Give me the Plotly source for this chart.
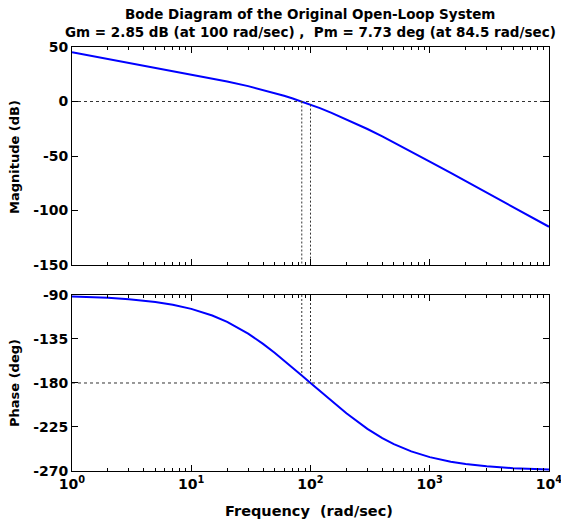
import plotly.graph_objects as go

# Values
freq = [1, 1.5, 2, 3, 5, 7, 10, 15, 20, 30, 40, 50, 60, 70, 84.5, 100, 120, 150, 200,
        300, 400, 500, 700, 1000, 1500, 2000, 3000, 5000, 7000, 10000]
mag_db = [45.10, 41.58, 39.08, 35.55, 31.08, 28.11, 24.92, 21.19, 18.40, 14.13, 10.75,
          7.85, 5.29, 2.99, 0.0, -2.85, -6.11, -10.36, -16.23, -25.24, -32.06, -37.52,
          -45.96, -55.08, -65.54, -73.00, -83.54, -96.84, -105.61, -114.90]
phase_deg = [-91.43, -92.15, -92.86, -94.29, -97.14, -99.97, -104.17, -110.99, -117.51,
             -129.49, -139.97, -149.04, -156.89, -163.75, -172.29, -180.00, -188.34,
             -198.43, -210.96, -226.85, -236.31, -242.49, -249.97, -255.83, -260.50,
             -262.86, -265.23, -267.14, -267.95, -268.57]

gm_freq = 100
gm_db = -2.85
pm_freq = 84.5
pm_phase = -172.29

mag_ticks = [50, 0, -50, -100, -150]
phase_ticks = [-90, -135, -180, -225, -270]
x_ticks = [1, 10, 100, 1000, 10000]
x_ticktext = ["10<sup>0</sup>", "10<sup>1</sup>", "10<sup>2</sup>", "10<sup>3</sup>", "10<sup>4</sup>"]
minor_x = [m * d for d in [1, 10, 100, 1000] for m in range(2, 10)]

title1 = "Bode Diagram of the Original Open-Loop System"
title2 = "Gm = 2.85 dB (at 100 rad/sec) ,  Pm = 7.73 deg (at 84.5 rad/sec)"
ylabel1 = "Magnitude (dB)"
ylabel2 = "Phase (deg)"
xlabel = "Frequency&nbsp; (rad/sec)"

FONT = "DejaVu Sans"
blue = "#0000ff"
dash_col = "#333333"

fig = go.Figure()

fig.add_trace(go.Scatter(x=freq, y=mag_db, mode="lines", line=dict(color=blue, width=2),
                         xaxis="x", yaxis="y", showlegend=False))
fig.add_trace(go.Scatter(x=freq, y=phase_deg, mode="lines", line=dict(color=blue, width=2),
                         xaxis="x2", yaxis="y2", showlegend=False))

fig.add_trace(go.Scatter(x=[freq[0], freq[-1]], y=[0, 0], mode="lines",
                         line=dict(color=dash_col, width=1, dash="3px,3px"),
                         xaxis="x", yaxis="y", showlegend=False))
fig.add_trace(go.Scatter(x=[freq[0], freq[-1]], y=[-180, -180], mode="lines",
                         line=dict(color=dash_col, width=1, dash="3px,3px"),
                         xaxis="x2", yaxis="y2", showlegend=False))

for f, y0 in [(pm_freq, 0), (gm_freq, gm_db)]:
    fig.add_trace(go.Scatter(x=[f, f], y=[y0, mag_ticks[-1]], mode="lines",
                             line=dict(color=dash_col, width=1, dash="2px,2px"),
                             xaxis="x", yaxis="y", showlegend=False))
for f, y0 in [(pm_freq, pm_phase), (gm_freq, -180)]:
    fig.add_trace(go.Scatter(x=[f, f], y=[phase_ticks[0], y0], mode="lines",
                             line=dict(color=dash_col, width=1, dash="2px,2px"),
                             xaxis="x2", yaxis="y2", showlegend=False))

tickfont = dict(family=FONT, size=14, color="black")
common_x = dict(type="log", range=[0, 4], showgrid=False, zeroline=False,
                showline=True, linecolor="black", linewidth=1, mirror="ticks",
                ticks="inside", ticklen=6, tickcolor="black",
                tickmode="array", tickvals=x_ticks,
                ticktext=["<b>" + t + "</b>" for t in x_ticktext],
                ticklabeloverflow="allow", automargin=False,
                minor=dict(ticks="inside", ticklen=3, tickcolor="black", showgrid=False,
                           tickmode="array", tickvals=minor_x),
                tickfont=tickfont)
common_y = dict(showgrid=False, zeroline=False, showline=True, linecolor="black",
                linewidth=1, mirror="ticks", ticks="inside", ticklen=6, automargin=False,
                tickcolor="black", tickfont=tickfont, tickmode="array")

fig.update_layout(
    width=561, height=524,
    margin=dict(l=72, r=12, t=47, b=53),
    paper_bgcolor="white", plot_bgcolor="white",
    font=dict(family=FONT, color="black"),
    xaxis=dict(**common_x, domain=[0, 1], anchor="y", showticklabels=False),
    yaxis=dict(**common_y, domain=[0.4858, 1], anchor="x", range=[-150, 50],
               tickvals=mag_ticks, ticktext=["<b>%d</b>" % v for v in mag_ticks]),
    xaxis2=dict(**common_x, domain=[0, 1], anchor="y2", showticklabels=True),
    yaxis2=dict(**common_y, domain=[0, 0.4151], anchor="x2", range=[-270, -90],
                tickvals=phase_ticks, ticktext=["<b>%d</b>" % v for v in phase_ticks]),
    annotations=[
        dict(text="<b>" + title1 + "</b>", x=310, y=14, showarrow=False,
             font=dict(family=FONT, size=13.5)),
        dict(text="<b>" + title2 + "</b>", x=310, y=32, showarrow=False,
             font=dict(family=FONT, size=13.5)),
        dict(text="<b>" + ylabel1 + "</b>", x=14, y=157, textangle=-90, showarrow=False,
             font=dict(family=FONT, size=13)),
        dict(text="<b>" + ylabel2 + "</b>", x=14, y=383, textangle=-90, showarrow=False,
             font=dict(family=FONT, size=13)),
        dict(text="<b>" + xlabel + "</b>", x=309, y=511, showarrow=False,
             font=dict(family=FONT, size=14.5)),
    ],
)

pw = 561 - 72 - 12
ph = 524 - 47 - 53
for a in fig.layout.annotations:
    a.xref = "paper"
    a.yref = "paper"
    a.x = (a.x - 72) / pw
    a.y = (524 - 53 - a.y) / ph
    a.xanchor = "center"
    a.yanchor = "middle"

fig.write_html("out.html")
